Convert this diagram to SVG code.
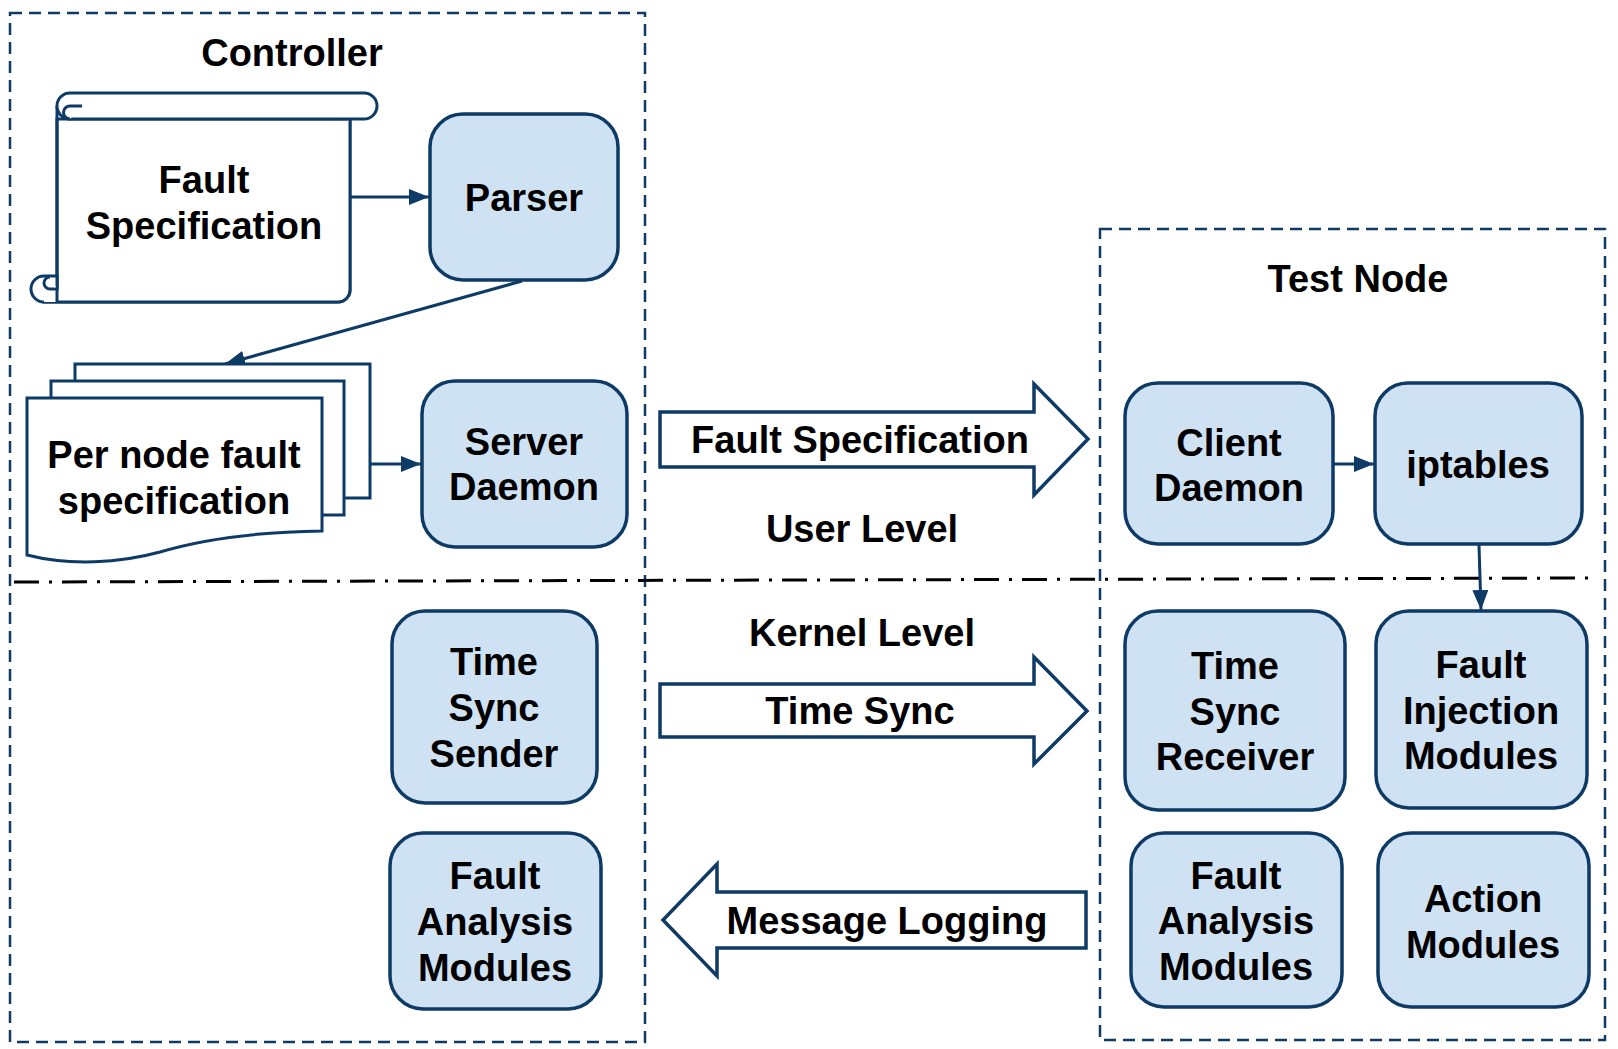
<svg xmlns="http://www.w3.org/2000/svg" width="1618" height="1049" viewBox="0 0 1618 1049">
<style>
text{font-family:"Liberation Sans",Arial,Helvetica,sans-serif;font-weight:bold;font-size:38px;fill:#000;text-anchor:middle}
.box{fill:#cfe2f3;stroke:#0e3a66;stroke-width:3.5}
.doc{fill:#fff;stroke:#0e3a66;stroke-width:3}
.region{fill:none;stroke:#0e3a66;stroke-width:2.5;stroke-dasharray:12 7}
.blk{fill:#fff;stroke:#0e3a66;stroke-width:3.5;stroke-linejoin:miter}
.conn{fill:none;stroke:#0e3a66;stroke-width:3}
.level{fill:none;stroke:#000;stroke-width:3;stroke-dasharray:25 10 3 10}
</style>
<defs>
<marker id="ah" viewBox="0 0 20 16" refX="20" refY="8" markerWidth="20" markerHeight="16" markerUnits="userSpaceOnUse" orient="auto">
<path d="M0,0 L20,8 L0,16 Z" fill="#0e3a66"/>
</marker>
</defs>
<rect width="1618" height="1049" fill="#fff"/>

<g id="controller-region">
<rect class="region" x="10" y="13" width="635" height="1029"/>
<text x="292" y="66">Controller</text>
</g>
<g id="testnode-region">
<rect class="region" x="1100" y="229" width="505" height="811"/>
<text x="1358" y="292">Test Node</text>
</g>
<g id="level-line">
<line class="level" x1="14" y1="582" x2="1598" y2="578"/>
<text x="862" y="542">User Level</text>
<text x="862" y="646">Kernel Level</text>
</g>

<g id="connectors">
<line class="conn" x1="350" y1="197" x2="429" y2="197" marker-end="url(#ah)"/>
<line class="conn" x1="522" y1="281" x2="225" y2="364" marker-end="url(#ah)"/>
<line class="conn" x1="370" y1="464" x2="421" y2="464" marker-end="url(#ah)"/>
<line class="conn" x1="1333" y1="464" x2="1374" y2="464" marker-end="url(#ah)"/>
<line class="conn" x1="1479" y1="545" x2="1481" y2="610" marker-end="url(#ah)"/>
</g>

<g id="fault-spec-file">
<path class="doc" d="M57,119 H350 V290 A12,12 0 0 1 338,302 H44 V289 L57,289 Z" stroke="none"/>
<path class="doc" d="M57,106 V289" fill="none"/>
<path class="doc" d="M350,119 V290 A12,12 0 0 1 338,302 H44" fill="none"/>
<path class="doc" d="M70,93 H364 A13,13 0 0 1 364,119 H70 A13,13 0 0 1 70,93 Z"/>
<path class="doc" d="M82,106 H70 A6.5,6.5 0 0 0 70,119" fill="none"/>
<path class="doc" d="M44,302 A13,13 0 0 1 44,276 H57 V302"/>
<path class="doc" d="M57,289 H50 A6,6 0 0 1 50,277" fill="none"/>
<text x="204" y="193">Fault</text>
<text x="204" y="239">Specification</text>
</g>

<g id="parser">
<rect class="box" x="430" y="114" width="188" height="166" rx="33"/>
<text x="524" y="211">Parser</text>
</g>

<g id="per-node-spec">
<rect class="doc" x="75" y="364" width="295" height="134"/>
<rect class="doc" x="51" y="381" width="293" height="134"/>
<path class="doc" d="M27,398 H322 V531 C250,532 200,540 160,552 C120,563 70,566 27,555 Z"/>
<text x="174" y="468">Per node fault</text>
<text x="174" y="514">specification</text>
</g>

<g id="server-daemon">
<rect class="box" x="422" y="381" width="205" height="166" rx="33"/>
<text x="524" y="455">Server</text>
<text x="524" y="500">Daemon</text>
</g>

<g id="arrow-fault-spec">
<path class="blk" d="M660,412 H1034 V384 L1088,439 L1034,495 V467 H660 Z"/>
<text x="860" y="453">Fault Specification</text>
</g>

<g id="arrow-time-sync">
<path class="blk" d="M660,684 H1034 V657 L1087,711 L1034,764 V737 H660 Z"/>
<text x="860" y="724">Time Sync</text>
</g>

<g id="arrow-message-logging">
<path class="blk" d="M1086,892 H717 V864 L663,920 L717,976 V948 H1086 Z"/>
<text x="887" y="934">Message Logging</text>
</g>

<g id="client-daemon">
<rect class="box" x="1125" y="383" width="208" height="161" rx="33"/>
<text x="1229" y="456">Client</text>
<text x="1229" y="501">Daemon</text>
</g>

<g id="iptables">
<rect class="box" x="1375" y="383" width="207" height="161" rx="33"/>
<text x="1478" y="478">iptables</text>
</g>

<g id="time-sync-sender">
<rect class="box" x="392" y="611" width="205" height="192" rx="33"/>
<text x="494" y="675">Time</text>
<text x="494" y="721">Sync</text>
<text x="494" y="767">Sender</text>
</g>

<g id="time-sync-receiver">
<rect class="box" x="1125" y="611" width="220" height="199" rx="33"/>
<text x="1235" y="679">Time</text>
<text x="1235" y="725">Sync</text>
<text x="1235" y="770">Receiver</text>
</g>

<g id="fault-injection-modules">
<rect class="box" x="1376" y="611" width="211" height="197" rx="33"/>
<text x="1481" y="678">Fault</text>
<text x="1481" y="724">Injection</text>
<text x="1481" y="769">Modules</text>
</g>

<g id="fault-analysis-controller">
<rect class="box" x="390" y="833" width="211" height="176" rx="33"/>
<text x="495" y="889">Fault</text>
<text x="495" y="935">Analysis</text>
<text x="495" y="981">Modules</text>
</g>

<g id="fault-analysis-testnode">
<rect class="box" x="1131" y="833" width="211" height="174" rx="33"/>
<text x="1236" y="889">Fault</text>
<text x="1236" y="934">Analysis</text>
<text x="1236" y="980">Modules</text>
</g>

<g id="action-modules">
<rect class="box" x="1378" y="833" width="211" height="174" rx="33"/>
<text x="1483" y="912">Action</text>
<text x="1483" y="958">Modules</text>
</g>
</svg>
